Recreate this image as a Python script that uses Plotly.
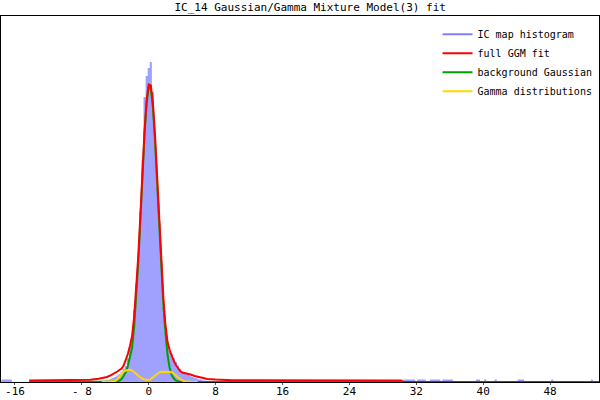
import plotly.graph_objects as go

# ---- data (y in arbitrary count units) ----
hist_centers = [-17.5, -17.25, -17.0, -16.75, -16.5,
                -7.0, -6.75, -6.5, -6.25, -6.0, -5.75, -5.5, -5.25, -5.0, -4.75, -4.5, -4.25,
                -4.0, -3.75, -3.5, -3.25, -3.0, -2.75, -2.5, -2.25, -2.0, -1.75, -1.5, -1.25,
                -1.0, -0.75, -0.5, -0.25, 0.0, 0.25, 0.5, 0.75, 1.0, 1.25, 1.5, 1.75,
                2.0, 2.25, 2.5, 2.75, 3.0, 3.25, 3.5, 3.75, 4.0, 4.25, 4.5, 4.75,
                5.0, 5.25, 5.5, 5.75, 6.0, 6.25, 6.5, 6.75, 7.0, 7.25, 7.5, 7.75, 8.0,
                30.5, 30.75, 31.0, 31.25, 31.5, 31.75, 32.25, 32.5, 32.75, 33.0,
                33.75, 34.0, 34.25, 34.5, 34.75, 35.25, 35.5, 35.75, 36.0, 36.25,
                39.25, 39.5, 40.25, 41.5, 44.25, 44.5, 44.75, 48.25, 53.0]
hist_counts = [2.5, 2.5, 2.5, 2.5, 2.5,
               0.3, 0.35, 0.4, 0.5, 0.7, 1.0, 1.2, 1.6, 2.0, 2.6, 3.2, 4.0,
               5.0, 6.5, 8.0, 10, 13, 16, 24, 35, 47, 72, 98, 122,
               170, 222, 285, 306, 314, 320, 290, 235, 195, 160, 120, 75,
               50, 38, 32, 28, 24, 20, 16, 13, 10.5, 9, 8, 7,
               6, 5, 4.2, 3.5, 2.8, 2.2, 1.7, 1.3, 1.0, 0.8, 0.6, 0.5, 0.4,
               2.5, 2.5, 2.5, 2.5, 2.5, 2.5, 2.5, 2.5, 2.5, 2.5,
               2.5, 2.5, 2.5, 2.5, 2.5, 2.5, 2.5, 2.5, 2.5, 2.5,
               2.5, 2.5, 2.5, 2.5, 2.5, 2.5, 2.5, 2.5, 2.5]
hist_bin_width = 0.25

full_x = [-14.3, -12, -10, -8, -7, -6, -5.5, -5.0, -4.5, -4.0, -3.75, -3.5, -3.25,
          -3.0, -2.75, -2.5, -2.25, -2.0, -1.75, -1.5, -1.25, -1.0, -0.75, -0.5, -0.25,
          0.0, 0.25, 0.5, 0.75, 1.0, 1.25, 1.5, 1.75, 2.0, 2.25, 2.5, 2.75, 3.0, 3.25,
          3.5, 3.75, 4.0, 4.5, 5.0, 5.5, 6.0, 6.5, 7.0, 8.0, 9.0, 10, 12, 15, 30.2, 30.4, 53.85]
full_fit = [1.6, 1.6, 1.7, 1.9, 2.3, 3.3, 4.0, 5.0, 6.8, 8.8, 10.5, 12, 13.5,
            16.5, 21.6, 28, 36, 45.5, 65, 92, 126, 166.7, 212, 252, 281.5,
            297.6, 296.6, 279, 247, 205, 161, 118, 84, 57, 40, 32, 26, 21, 17,
            14, 11, 9.5, 8.7, 7.5, 6, 4.8, 3.8, 3.0, 2.4, 2.0, 1.8, 1.7, 1.6, 1.6, 0, 0]

gauss_x = [-14.3, -5.0, -4.75, -4.5, -4.25, -4.0, -3.75, -3.5, -3.25, -3.0, -2.75,
           -2.5, -2.25, -2.0, -1.75, -1.5, -1.25, -1.0, -0.75, -0.5, -0.25, 0.0,
           0.25, 0.5, 0.75, 1.0, 1.25, 1.5, 1.75, 2.0, 2.25, 2.5, 2.75, 3.0, 3.25,
           3.5, 3.75, 4.0, 4.25, 4.5, 4.75, 5.0, 30.2]
gauss_fit = [0, 0, 0, 0.02, 0.06, 0.2, 0.6, 1.5, 3, 6, 10,
             16, 24, 34, 54, 82.6, 119.4, 162.2, 206.9, 248.1, 279.4, 295.5,
             293.7, 274.2, 240.5, 198.1, 153.3, 111.5, 76.1, 48.9, 27, 14, 7, 3.5, 1.5,
             0.6, 0.25, 0.1, 0.04, 0.02, 0, 0, 0]

gamma_x = [-5.6, -5.0, -4.75, -4.5, -4.25, -4.0, -3.75, -3.5, -3.25, -3.0, -2.75,
           -2.5, -2.25, -2.0, -1.75, -1.5, -1.25, -1.0, -0.75, -0.5, -0.25, 0.0,
           0.25, 0.5, 0.75, 1.0, 1.25, 1.5, 1.75, 2.0, 2.25, 2.5, 2.75, 3.0, 3.25,
           3.5, 3.75, 4.0, 4.25, 4.5, 4.75, 5.0, 5.85]
gamma_fit = [0, 0.1, 0.2, 0.3, 0.5, 1.0, 2.6, 5.5, 8.6, 10.5, 11.6,
             12.2, 12.2, 11.5, 10.1, 8.2, 6.2, 4.5, 3.2, 2.4, 2.1, 2.1,
             2.9, 4.6, 6.6, 8.5, 9.7, 10.2, 10.3, 10.3, 10.3, 10.1, 9.7, 8.5, 6.6,
             4.5, 2.8, 1.6, 0.8, 0.45, 0.3, 0.15, 0]

tick_vals = [-16, -8, 0, 8, 16, 24, 32, 40, 48]
tick_text = ["-16", "- 8", "0", "8", "16", "24", "32", "40", "48"]

title_text = "IC_14 Gaussian/Gamma Mixture Model(3) fit"

# ---- histogram outline as a filled step path built from the bins ----
step_x, step_y = [], []
half = hist_bin_width / 2
for i, (c, n) in enumerate(zip(hist_centers, hist_counts)):
    left, right = c - half, c + half
    if not step_x or abs(step_x[-1] - left) > 1e-9:
        step_x.append(left); step_y.append(0)
    step_x.append(left); step_y.append(n)
    step_x.append(right); step_y.append(n)
    nxt = hist_centers[i + 1] - half if i + 1 < len(hist_centers) else None
    if nxt is None or abs(nxt - right) > 1e-9:
        step_x.append(right); step_y.append(0)

# ---- figure ----
FONT = "DejaVu Sans Mono"
fig = go.Figure()

fig.add_trace(go.Scatter(x=step_x, y=step_y, mode="lines", fill="tozeroy",
                         fillcolor="#a0a0ff", line=dict(width=0, color="#a0a0ff"),
                         showlegend=False, hoverinfo="skip"))
# legend entry for the histogram
fig.add_trace(go.Scatter(x=[None], y=[None], mode="lines", name="IC map histogram",
                         line=dict(color="#8080ff", width=2), legendrank=1))
fig.add_trace(go.Scatter(x=gauss_x, y=gauss_fit, mode="lines", name="background Gaussian",
                         line=dict(color="#00a000", width=2), legendrank=3))
fig.add_trace(go.Scatter(x=gamma_x, y=gamma_fit, mode="lines", name="Gamma distributions",
                         line=dict(color="#ffd700", width=2), legendrank=4))
fig.add_trace(go.Scatter(x=full_x, y=full_fit, mode="lines", name="full GGM fit",
                         line=dict(color="#ff0000", width=2), legendrank=2))

fig.update_layout(
    width=600, height=400,
    margin=dict(l=1, r=1, t=16, b=18),
    paper_bgcolor="white", plot_bgcolor="white",
    font=dict(family=FONT, size=11, color="black"),
    title=dict(text=title_text, x=0.517, xanchor="center", xref="container",
               y=0.982, yanchor="middle", yref="container",
               font=dict(family=FONT, size=11, color="black")),
    legend=dict(x=0.73, y=0.99, xanchor="left", yanchor="top",
                bgcolor="rgba(0,0,0,0)", borderwidth=0,
                font=dict(family=FONT, size=10, color="black"),
                tracegroupgap=0),
    xaxis=dict(range=[-17.67, 53.85], tickmode="array", tickvals=tick_vals,
               ticktext=tick_text, showgrid=False, zeroline=False,
               showline=True, linecolor="black", linewidth=1, mirror=True,
               ticks="outside", ticklen=2, tickcolor="#555",
               ticklabelstandoff=-3,
               tickfont=dict(family=FONT, size=11, color="black")),
    yaxis=dict(range=[0, 366], showgrid=False, zeroline=False, showticklabels=False,
               showline=True, linecolor="black", linewidth=1, mirror=True, ticks=""),
)

fig.write_html("out.html",
               config={"displayModeBar": False},
               post_script="document.body.style.margin='0';document.body.style.padding='0';")
